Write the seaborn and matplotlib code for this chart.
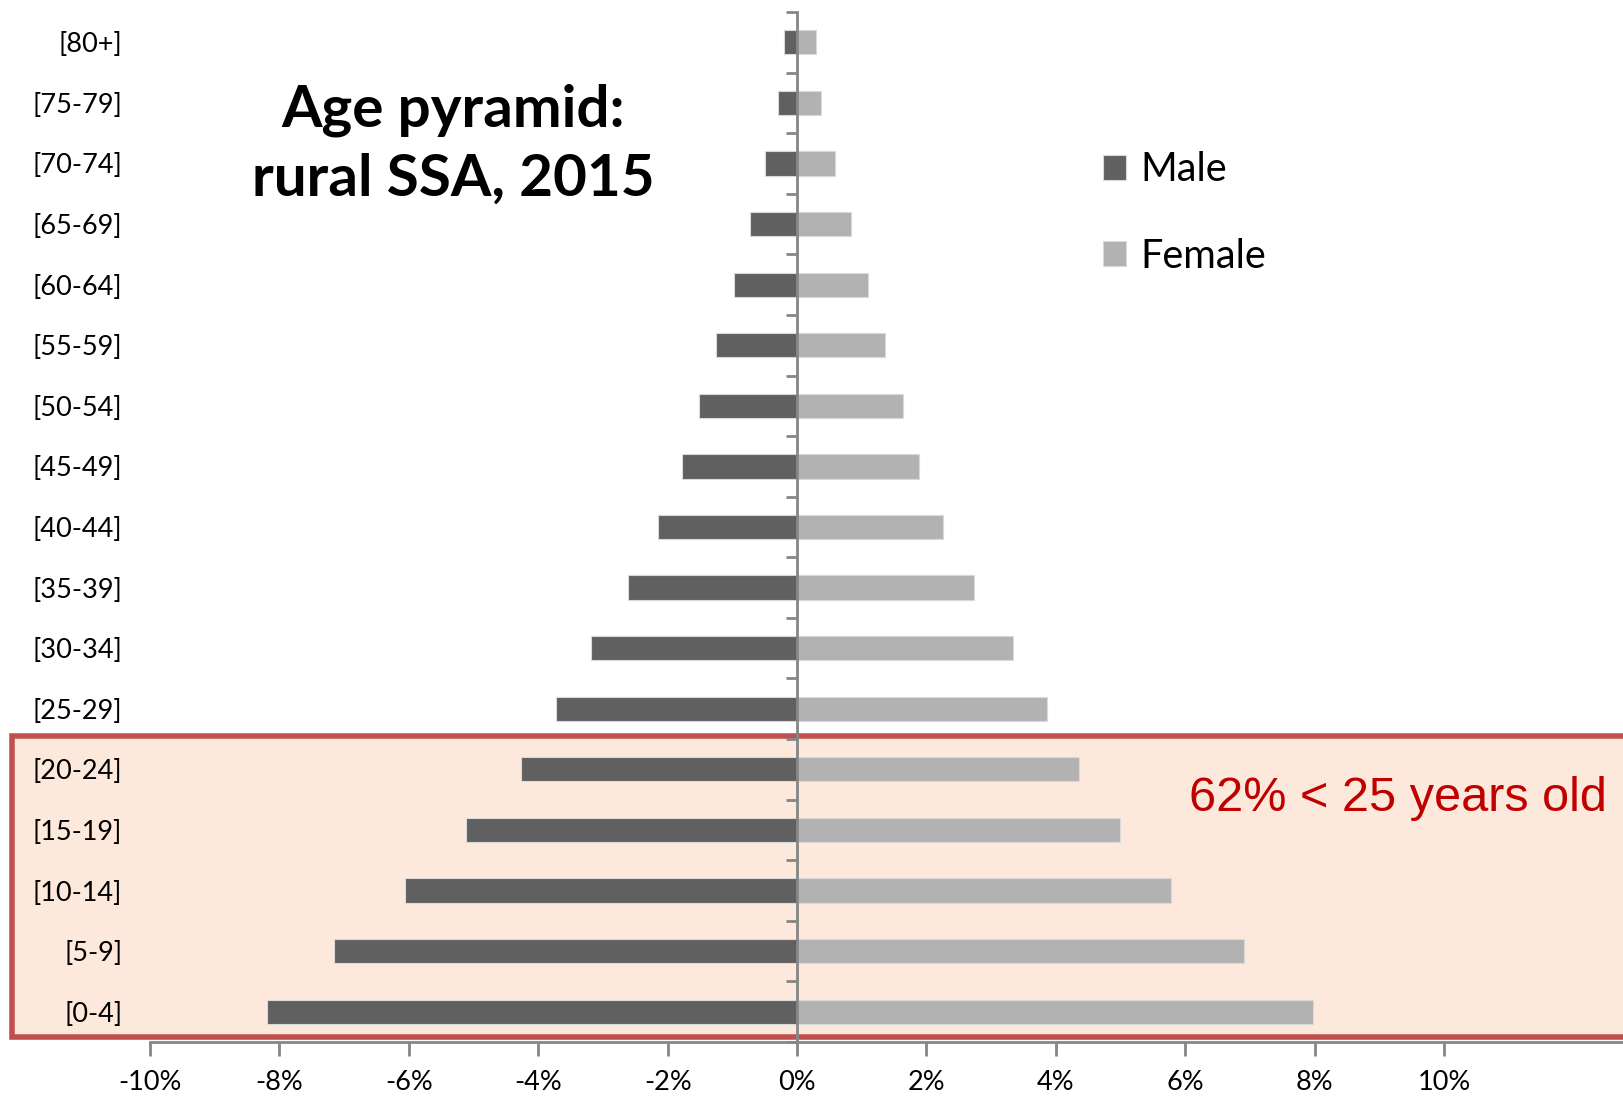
import numpy as np
import pandas as pd
import matplotlib
matplotlib.use("Agg")
import matplotlib.pyplot as plt
import matplotlib.ticker as ticker
import matplotlib.transforms as mtransforms
from matplotlib.patches import Rectangle
import seaborn as sns

sns.set_style("white")
plt.rcParams["font.family"] = ["Lato", "DejaVu Sans"]
plt.rcParams["text.color"] = "black"
plt.rcParams["xtick.color"] = "black"
plt.rcParams["ytick.color"] = "black"

# data: share of rural SSA population (%), 2015
age_groups = ["[80+]", "[75-79]", "[70-74]", "[65-69]", "[60-64]", "[55-59]",
              "[50-54]", "[45-49]", "[40-44]", "[35-39]", "[30-34]", "[25-29]",
              "[20-24]", "[15-19]", "[10-14]", "[5-9]", "[0-4]"]
male_pct = [0.20, 0.29, 0.49, 0.73, 0.98, 1.25, 1.51, 1.78, 2.15, 2.61, 3.19,
            3.72, 4.27, 5.12, 6.06, 7.15, 8.20]
female_pct = [0.29, 0.37, 0.59, 0.83, 1.09, 1.36, 1.63, 1.89, 2.26, 2.74, 3.34,
              3.86, 4.35, 4.99, 5.78, 6.91, 7.97]
young_groups = ["[20-24]", "[15-19]", "[10-14]", "[5-9]", "[0-4]"]
x_ticks = [-10, -8, -6, -4, -2, 0, 2, 4, 6, 8, 10]

df = pd.concat([
    pd.DataFrame({"age": age_groups, "pct": [-v for v in male_pct], "sex": "Male"}),
    pd.DataFrame({"age": age_groups, "pct": female_pct, "sex": "Female"}),
])

axis_grey = "#868686"

fig = plt.figure(figsize=(16.24, 10.97), dpi=100)
ax = fig.add_axes([0.0924, 0.0501, 0.9076, 0.9390])
ax.patch.set_alpha(0)

sns.barplot(data=df, x="pct", y="age", hue="sex", order=age_groups,
            orient="h", dodge=False, width=0.4,
            palette={"Male": "#606060", "Female": "#B2B2B2"},
            edgecolor="#d9d9d9", linewidth=0.8, ax=ax)

n = len(age_groups)
ax.set_xlim(-10, 12.78)
ax.set_ylim(n - 0.5, -0.5)
ax.set_xlabel("")
ax.set_ylabel("")

# x axis
ax.set_xticks(x_ticks)
ax.xaxis.set_major_formatter(ticker.FuncFormatter(lambda v, _: f"{v:.0f}%"))
ax.tick_params(axis="x", direction="out", length=10, width=2, color=axis_grey,
               labelcolor="black", labelsize=19.5, pad=10, bottom=True)
for s in ["top", "right"]:
    ax.spines[s].set_visible(False)
ax.spines["bottom"].set_color(axis_grey)
ax.spines["bottom"].set_linewidth(2)

# vertical axis line at 0 with ticks between categories
ax.spines["left"].set_position(("data", 0))
ax.spines["left"].set_color(axis_grey)
ax.spines["left"].set_linewidth(2)
ax.set_yticks(np.arange(n + 1) - 0.5, labels=[""] * (n + 1))
ax.tick_params(axis="y", direction="out", length=8, width=2, color=axis_grey, left=True)

# age labels at the far left
sec = ax.secondary_yaxis(0)
sec.set_yticks(np.arange(n), labels=age_groups)
sec.tick_params(length=0, pad=20, labelsize=19.5, labelcolor="black")
sec.spines["left"].set_visible(False)

# highlighted box for the under-25s
top = age_groups.index(young_groups[0]) - 0.55
bottom = age_groups.index(young_groups[-1]) + 0.42
trans = mtransforms.blended_transform_factory(fig.transFigure, ax.transData)
box = Rectangle((0.0074, bottom), 1.0, top - bottom, transform=trans,
                facecolor="#FDE9DB", edgecolor="#C0504D", linewidth=4, zorder=-1)
fig.add_artist(box)

fig.text(0.9896, 0.272, "62% < 25 years old", ha="right", va="center",
         fontsize=35, color="#C00000", family="Liberation Sans")

fig.text(0.279, 0.868, "Age pyramid:\nrural SSA, 2015", ha="center", va="center",
         fontsize=42, fontweight="bold", linespacing=1.38)

handles, labels = ax.get_legend_handles_labels()
ax.legend(handles, labels, loc="upper left", bbox_to_anchor=(0.679, 0.862),
          bbox_transform=fig.transFigure, frameon=False, fontsize=28.5,
          handlelength=0.6, handleheight=0.6, handletextpad=0.35,
          labelspacing=1.25, borderpad=0, borderaxespad=0)

plt.savefig("out.png", dpi=100)
plt.close()
